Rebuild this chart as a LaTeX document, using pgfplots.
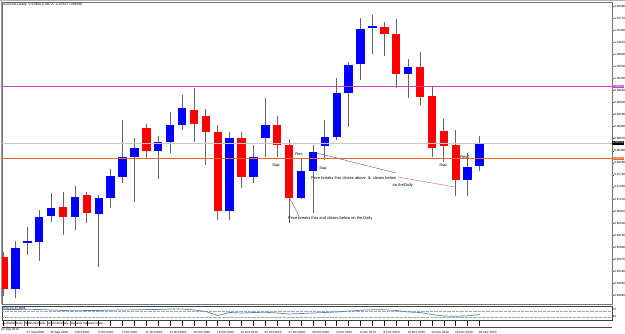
\documentclass[border=0pt]{standalone}
\usepackage{pgfplots}
\usepackage{pgfplotstable}
\pgfplotsset{compat=1.18}
\usepackage{fontspec}
\setmainfont{Liberation Sans}
\definecolor{mtblue}{HTML}{0000FF}
\definecolor{mtred}{HTML}{FF0000}
\definecolor{mtmag}{HTML}{C83CD2}
\definecolor{mtorng}{HTML}{E8662A}
\definecolor{ind}{HTML}{4A88C4}
\definecolor{tlblue}{HTML}{6060B0}
\definecolor{tlred}{HTML}{D07080}
\definecolor{tlred2}{HTML}{C05050}

\pgfplotstableread{
i o h l c
1 0.94807 0.96040 0.94575 0.95860
2 0.95989 0.96400 0.95681 0.96040
3 0.96015 0.96837 0.95526 0.96657
4 0.96683 0.97274 0.96529 0.96888
6 0.96657 0.97454 0.96323 0.97171
8 0.96734 0.97223 0.95372 0.97145
9 0.97145 0.97891 0.96888 0.97711
10 0.97685 0.99150 0.97531 0.98199
11 0.98199 0.98687 0.97043 0.98430
13 0.98353 0.98739 0.97634 0.98585
14 0.98585 0.99356 0.98302 0.99022
15 0.99022 0.99793 0.98893 0.99458
19 0.96811 0.98842 0.96580 0.98687
21 0.97685 0.98508 0.97531 0.98199
22 0.98687 0.99715 0.98199 0.99022
25 0.97145 0.98173 0.97120 0.97839
26 0.97839 0.98508 0.96760 0.98328
27 0.98482 0.99150 0.98122 0.98713
28 0.98713 1.00229 0.98636 0.99844
29 0.99844 1.00641 0.98970 1.00564
30 1.00589 1.01772 1.00178 1.01489
31 1.01515 1.01849 1.00846 1.01566
34 1.00332 1.00718 0.99715 1.00512
39 0.97608 0.98302 0.97197 0.97942
40 0.97960 0.98727 0.97837 0.98560
}\bull

\pgfplotstableread{
i o h l c
0 0.95629 0.95758 0.94627 0.94807
5 0.96914 0.97300 0.96195 0.96657
7 0.97223 0.97300 0.96503 0.96760
12 0.98944 0.99047 0.98173 0.98353
16 0.99407 0.99972 0.98585 0.99047
17 0.99253 0.99433 0.97994 0.98842
18 0.98842 0.99022 0.96580 0.96811
20 0.98687 0.98842 0.97402 0.97685
23 0.99022 0.99253 0.98199 0.98508
24 0.98508 0.98662 0.96503 0.97145
32 1.01540 1.01669 1.00795 1.01360
33 1.01360 1.01746 0.99972 1.00332
35 1.00512 1.00898 0.99536 0.99741
36 0.99767 1.00024 0.98199 0.98430
37 0.98867 0.99176 0.98071 0.98482
38 0.98508 0.98893 0.97197 0.97608
}\bear

\pgfplotstableread{
i v
0 10.5
1 10.5
2 10.7
3 10.5
4 10.0
5 9.5
6 9.2
7 9.5
8 9.5
9 9.8
10 10.0
11 10.2
12 10.4
13 10.5
14 11.0
15 11.0
16 10.0
17 8.5
18 4.5
19 7.5
20 7.0
21 7.5
22 7.7
23 7.0
24 6.0
25 6.5
26 7.0
27 7.5
28 8.0
29 9.0
30 9.7
31 10.2
32 10.2
33 9.5
34 8.0
35 7.5
36 5.5
37 4.0
38 3.7
39 4.2
40 5.5
}\indtab

\pgfplotstableread{
x y
-1 1.0000
52 1.0000
}\lvlmag
\pgfplotstableread{
x y
-1 0.9856
52 0.9856
}\lvlcur
\pgfplotstableread{
x y
-1 0.9815
52 0.9815
}\lvlorng

\begin{document}
\begin{tikzpicture}[x=1pt,y=1pt]
\useasboundingbox (0,0) rectangle (625,-334);
\fill[white] (0,0) rectangle (625,-334);
\begin{axis}[
  at={(2pt,-2pt)}, anchor=north west,
  scale only axis, width=610pt, height=302pt,
  xmin=-0.126, xmax=51.13, ymin=0.944214, ymax=1.021828,
  xtick=\empty,
  ytick={1.0208,1.0177,1.0146,1.0115,1.0084,1.0053,1.0022,0.9991,0.9960,0.9929,0.9898,0.9867,0.9836,0.9805,0.9774,0.9743,0.9712,0.9681,0.9650,0.9619,0.9588,0.9557,0.9526,0.9495,0.9464},
  ytick pos=right, yticklabel pos=right,
  tick align=outside, major tick length=1.5pt,
  tick style={black!70, line width=0.4pt},
  scaled y ticks=false,
  /pgf/number format/fixed, /pgf/number format/fixed zerofill,
  /pgf/number format/precision=5, /pgf/number format/assume math mode=true,
  yticklabel style={font=\fontsize{3}{3.5}\selectfont, inner sep=0.6pt},
  axis line style={black!55, line width=0.5pt},
  clip mode=individual,
]
% wicks
\addplot[draw=none, mark=none, forget plot, error bars/.cd, y dir=plus, y explicit, error mark=none,
  error bar style={draw=black!60, line width=0.8pt}]
  table[x=i, y=l, y error expr=\thisrow{h}-\thisrow{l}] {\bull};
\addplot[draw=none, mark=none, forget plot, error bars/.cd, y dir=plus, y explicit, error mark=none,
  error bar style={draw=black!60, line width=0.8pt}]
  table[x=i, y=l, y error expr=\thisrow{h}-\thisrow{l}] {\bear};
% bodies
\addplot[draw=none, mark=none, forget plot, error bars/.cd, y dir=both, y explicit, error mark=none,
  error bar style={draw=mtblue, line width=8.4pt}]
  table[x=i, y expr=(\thisrow{o}+\thisrow{c})/2, y error expr=(\thisrow{c}-\thisrow{o})/2] {\bull};
\addplot[draw=none, mark=none, forget plot, error bars/.cd, y dir=both, y explicit, error mark=none,
  error bar style={draw=mtred, line width=8.4pt}]
  table[x=i, y expr=(\thisrow{o}+\thisrow{c})/2, y error expr=(\thisrow{o}-\thisrow{c})/2] {\bear};
% horizontal levels
\addplot[draw=mtmag, color=mtmag, mark=none, line width=0.9pt] table[x=x,y=y] {\lvlmag};
\addplot[draw=black!22, color=black!22, mark=none, line width=0.5pt] table[x=x,y=y] {\lvlcur};
\addplot[draw=mtorng, color=mtorng, mark=none, line width=0.9pt] table[x=x,y=y] {\lvlorng};
% trend lines
\addplot[draw=tlblue, mark=none, line width=0.45pt] coordinates {(26.34,0.98302) (32.97,0.97788)};
\addplot[draw=tlred, mark=none, line width=0.45pt] coordinates {(33.15,0.97685) (37.94,0.97428)};
\addplot[draw=tlred2, mark=none, line width=0.45pt] coordinates {(24.08,0.97120) (24.83,0.96683)};
% annotations
\begin{scope}[every node/.style={font=\fontsize{4}{4.5}\selectfont, inner sep=0pt, text=black}]
\node at (axis cs:24.83,0.98277) {Res};
\node at (axis cs:22.9,0.97968) {Sup};
\node at (axis cs:26.85,0.97891) {Sup};
\node[anchor=west] at (axis cs:25.84,0.97660) {Price breaks thru closes above\ \ \&\ \ closes below};
\node[anchor=east] at (axis cs:34.4,0.97480) {on theDaily};
\node[anchor=west] at (axis cs:23.9,0.96632) {Price breaks thru and closes below on the Daily};
\node at (axis cs:36.93,0.97968) {Sup};
\node at (axis cs:38.78,0.98199) {Res?};
\end{scope}
% price tags
\begin{scope}[every node/.style={font=\fontsize{3}{3.5}\selectfont, inner xsep=0.6pt, inner ysep=0.5pt, anchor=west, text=white}]
\node[fill=mtmag] at (axis cs:51.13,1.0000) {1.00000};
\node[fill=black] at (axis cs:51.13,0.9856) {0.98560};
\node[fill=mtorng] at (axis cs:51.13,0.9815) {0.98150};
\end{scope}
\end{axis}

\begin{axis}[
  at={(2pt,-306pt)}, anchor=north west,
  scale only axis, width=610pt, height=14pt,
  xmin=-0.126, xmax=51.13, ymin=0, ymax=14,
  ytick=\empty,
  xtick={0,...,40},
  xticklabels={,,27 Sep 2010,,29 Sep 2010,,1 Oct 2010,,5 Oct 2010,,7 Oct 2010,,11 Oct 2010,,13 Oct 2010,,15 Oct 2010,,19 Oct 2010,,21 Oct 2010,,25 Oct 2010,,27 Oct 2010,,29 Oct 2010,,2 Nov 2010,,4 Nov 2010,,8 Nov 2010,,10 Nov 2010,,12 Nov 2010,,16 Nov 2010,,18 Nov 2010},
  xtick pos=bottom, tick align=outside, major tick length=6pt,
  tick style={black, line width=0.5pt},
  xticklabel style={font=\fontsize{3.1}{3.4}\selectfont, anchor=north west, inner sep=0pt, xshift=-0.8pt, yshift=-5.6pt},
  axis line style={black!75, line width=0.6pt},
  clip mode=individual,
]
\addplot[draw=black!35, mark=none, densely dotted, line width=0.3pt] coordinates {(-1,9.3) (52,9.3)};
\addplot[draw=black!35, mark=none, densely dotted, line width=0.3pt] coordinates {(-1,3.3) (52,3.3)};
\addplot[draw=ind, mark=none, line width=0.7pt] table[x=i, y=v] {\indtab};
\node[anchor=west, font=\fontsize{3}{3.5}\selectfont, inner sep=0pt] at (rel axis cs:0.002,0.78) {RSI(14) 45.8688};
\node[anchor=west, font=\fontsize{3}{3.5}\selectfont, inner sep=0.5pt] at (rel axis cs:1,0.78) {70};
\node[anchor=west, font=\fontsize{3}{3.5}\selectfont, inner sep=0.5pt] at (rel axis cs:1,0.28) {30};
\end{axis}

% window border
\draw[black!30, line width=2pt] (0,-0.5) -- (625,-0.5);
\draw[black!40, line width=0.6pt] (1.6,-1) -- (1.6,-304);
% title
\node[anchor=west, font=\fontsize{3.5}{4}\selectfont, inner sep=0pt] at (3,-4.5) {AUDUSD,Daily\ \ 0.97960 0.98727 0.97837 0.98560};
% tab bar
\draw[black!70, line width=0.4pt] (2,-327) -- (612,-327);
\begin{scope}[every node/.style={font=\fontsize{3}{3.5}\selectfont, inner sep=0pt, anchor=west}]
\node at (2.5,-323.5) {AUDUSD,Daily};
\node at (25,-323.5) {NZDUSD,Daily};
\node at (48,-323.5) {USDCAD,Daily};
\node at (71,-323.5) {Genesis Software Down...};
\end{scope}
\draw[black!60, line width=0.3pt] (24,-320.5) -- (24,-326.5) (47,-320.5) -- (47,-326.5) (70,-320.5) -- (70,-326.5);
\node[anchor=north west, font=\fontsize{3.1}{3.4}\selectfont, inner sep=0pt] at (1,-328.6) {22 Sep 2010};
\end{tikzpicture}
\end{document}
